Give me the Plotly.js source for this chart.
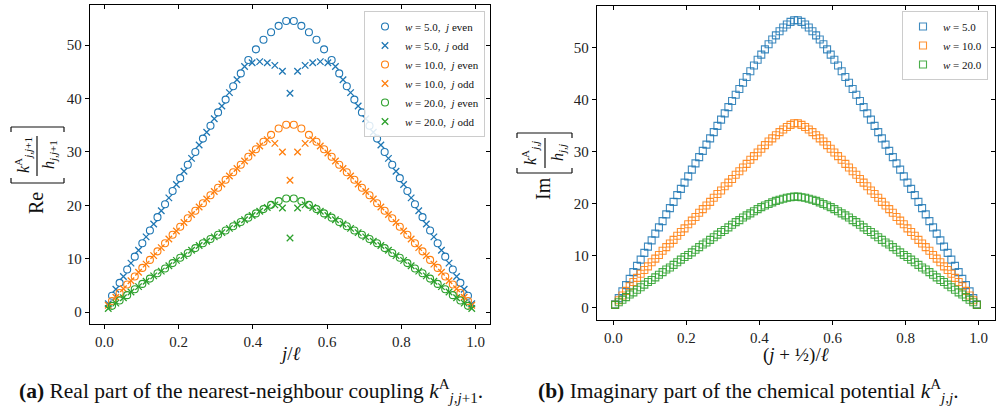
<!DOCTYPE html>
<html><head><meta charset="utf-8">
<script src="https://cdn.plot.ly/plotly-3.0.1.min.js"></script>
<style>html,body{margin:0;padding:0;background:#fff}#chart{width:997px;height:412px}</style>
</head><body><div id="chart"></div>
<script>
// ---------- panel (a): Re[k_{j,j+1}/h_{j,j+1}] vs j/l ----------
const ellA = 98;
const jEven = [2,4,6,8,10,12,14,16,18,20,22,24,26,28,30,32,34,36,38,40,42,44,46,48,50,52,54,56,58,60,62,64,66,68,70,72,74,76,78,80,82,84,86,88,90,92,94,96];
const jOdd = [1,3,5,7,9,11,13,15,17,19,21,23,25,27,29,31,33,35,37,39,41,43,45,47,49,51,53,55,57,59,61,63,65,67,69,71,73,75,77,79,81,83,85,87,89,91,93,95,97];

const re_w5_even = [3.1,5.5,8.0,10.4,12.9,15.3,17.8,20.2,22.7,25.1,27.6,30.0,32.5,34.9,37.4,39.8,42.3,44.7,47.2,49.2,51.0,52.4,53.6,54.5,
  54.5,53.6,52.4,51.0,49.2,47.2,44.7,42.3,39.8,37.4,34.9,32.5,30.0,27.6,25.1,22.7,20.2,17.8,15.3,12.9,10.4,8.0,5.5,3.1];
const re_w5_odd = [1.6,4.3,6.7,9.2,11.6,14.1,16.5,19.0,21.4,23.9,26.4,28.8,31.3,33.7,36.2,38.6,41.1,43.5,46.0,46.7,46.9,46.7,46.2,45.1,41.0,
  45.1,46.2,46.7,46.9,46.7,46.0,43.5,41.1,38.6,36.2,33.7,31.3,28.8,26.4,23.9,21.4,19.0,16.5,14.1,11.6,9.2,6.7,4.3,1.6];
const re_w10_even = [2.1,3.6,5.2,6.7,8.3,9.8,11.4,12.9,14.5,16.0,17.6,19.0,20.4,21.9,23.3,24.8,26.2,27.6,29.1,30.5,31.9,33.2,34.4,35.1,
  35.1,34.4,33.2,31.9,30.5,29.1,27.6,26.2,24.8,23.3,21.9,20.4,19.0,17.6,16.0,14.5,12.9,11.4,9.8,8.3,6.7,5.2,3.6,2.1];
const re_w10_odd = [1.3,2.8,4.4,5.9,7.5,9.0,10.6,12.1,13.7,15.2,16.8,18.3,19.7,21.2,22.6,24.0,25.5,26.9,28.3,29.8,31.1,32.3,31.6,30.0,24.7,
  30.0,31.6,32.3,31.1,29.8,28.3,26.9,25.5,24.0,22.6,21.2,19.7,18.3,16.8,15.2,13.7,12.1,10.6,9.0,7.5,5.9,4.4,2.8,1.3];
const re_w20_even = [1.2,2.2,3.2,4.3,5.3,6.3,7.3,8.2,9.2,10.2,11.1,12.0,12.9,13.7,14.5,15.3,16.1,16.9,17.7,18.5,19.3,20.1,20.8,21.3,
  21.3,20.8,20.1,19.3,18.5,17.7,16.9,16.1,15.3,14.5,13.7,12.9,12.0,11.1,10.2,9.2,8.2,7.3,6.3,5.3,4.3,3.2,2.2,1.2];
const re_w20_odd = [0.7,1.7,2.7,3.8,4.8,5.8,6.8,7.7,8.7,9.7,10.6,11.6,12.5,13.3,14.1,14.9,15.7,16.5,17.3,18.1,18.9,19.6,20.1,19.5,13.9,
  19.5,20.1,19.6,18.9,18.1,17.3,16.5,15.7,14.9,14.1,13.3,12.5,11.6,10.6,9.7,8.7,7.7,6.8,5.8,4.8,3.8,2.7,1.7,0.7];

// ---------- panel (b): Im[k_{j,j}/h_{j,j}] vs (j+1/2)/l ----------
const ellB = 100;
const site = [0,1,2,3,4,5,6,7,8,9,10,11,12,13,14,15,16,17,18,19,20,21,22,23,24,25,26,27,28,29,30,31,32,33,34,35,36,37,38,39,40,41,42,43,44,45,46,47,48,49,
  50,51,52,53,54,55,56,57,58,59,60,61,62,63,64,65,66,67,68,69,70,71,72,73,74,75,76,77,78,79,80,81,82,83,84,85,86,87,88,89,90,91,92,93,94,95,96,97,98,99];
const im_w5 = [0.6,1.8,3.1,4.3,5.5,6.8,8.0,9.2,10.5,11.7,12.9,14.2,15.4,16.6,17.9,19.1,20.3,21.6,22.8,24.0,25.2,26.5,27.7,28.9,30.1,31.3,32.5,33.7,34.9,36.1,
  37.3,38.5,39.7,40.9,42.0,43.2,44.3,45.4,46.5,47.6,48.6,49.6,50.6,51.5,52.3,53.1,53.8,54.4,54.9,55.2,
  55.2,54.9,54.4,53.8,53.1,52.3,51.5,50.6,49.6,48.6,47.6,46.5,45.4,44.3,43.2,42.0,40.9,39.7,38.5,37.3,36.1,34.9,33.7,32.5,31.3,30.1,28.9,27.7,26.5,25.2,
  24.0,22.8,21.6,20.3,19.1,17.9,16.6,15.4,14.2,12.9,11.7,10.5,9.2,8.0,6.8,5.5,4.3,3.1,1.8,0.6];
const im_w10 = [0.5,1.4,2.3,3.2,4.1,4.9,5.7,6.5,7.2,7.9,8.7,9.4,10.1,10.9,11.6,12.3,13.0,13.8,14.5,15.2,16.0,16.7,17.4,18.2,18.9,19.6,20.3,21.1,21.8,22.5,
  23.3,24.0,24.7,25.5,26.2,26.9,27.6,28.4,29.1,29.8,30.5,31.2,31.9,32.5,33.1,33.7,34.2,34.7,35.1,35.4,
  35.4,35.1,34.7,34.2,33.7,33.1,32.5,31.9,31.2,30.5,29.8,29.1,28.4,27.6,26.9,26.2,25.5,24.7,24.0,23.3,22.5,21.8,21.1,20.3,19.6,18.9,18.2,17.4,16.7,16.0,
  15.2,14.5,13.8,13.0,12.3,11.6,10.9,10.1,9.4,8.7,7.9,7.2,6.5,5.7,4.9,4.1,3.2,2.3,1.4,0.5];
const im_w20 = [0.5,1.0,1.5,2.0,2.5,2.9,3.4,3.9,4.4,4.9,5.3,5.8,6.3,6.8,7.3,7.7,8.2,8.7,9.2,9.7,10.1,10.6,11.1,11.6,12.1,12.5,13.0,13.5,14.0,14.5,
  14.9,15.4,15.9,16.4,16.8,17.3,17.7,18.1,18.5,18.9,19.3,19.6,19.9,20.2,20.5,20.7,20.9,21.1,21.2,21.3,
  21.3,21.2,21.1,20.9,20.7,20.5,20.2,19.9,19.6,19.3,18.9,18.5,18.1,17.7,17.3,16.8,16.4,15.9,15.4,14.9,14.5,14.0,13.5,13.0,12.5,12.1,11.6,11.1,10.6,10.1,
  9.7,9.2,8.7,8.2,7.7,7.3,6.8,6.3,5.8,5.3,4.9,4.4,3.9,3.4,2.9,2.5,2.0,1.5,1.0,0.5];

const tickVals = [0, 10, 20, 30, 40, 50];
const xTickVals = [0, 0.2, 0.4, 0.6, 0.8, 1.0];

// ---------- drawing ----------
const W = 997, H = 412;
const px = v => v / W, py = v => 1 - v / H;
const C = {b: '#1f77b4', o: '#ff7f0e', g: '#2ca02c'};
const SERIF = 'Liberation Serif';

const xA = arr => arr.map(j => j / ellA);
const xB = site.map(j => (j + 0.5) / ellB);

function circ(x, y, col, name) {
  return {x, y, type: 'scatter', mode: 'markers', name, legend: 'legend',
    marker: {symbol: 'circle-open', size: 7, color: col, line: {color: col, width: 1.1}},
    xaxis: 'x', yaxis: 'y', hoverinfo: 'skip'};
}
function cross(x, y, col, name) {
  return {x, y, type: 'scatter', mode: 'markers', name, legend: 'legend',
    marker: {symbol: 'x-thin-open', size: 6.5, color: col, line: {color: col, width: 1.3}},
    xaxis: 'x', yaxis: 'y', hoverinfo: 'skip'};
}
function sq(x, y, col, name) {
  return {x, y, type: 'scatter', mode: 'markers', name, legend: 'legend2',
    marker: {symbol: 'square-open', size: 7, color: col, opacity: 0.85, line: {color: col, width: 1.1}},
    xaxis: 'x2', yaxis: 'y2', hoverinfo: 'skip'};
}

const W_ = '<i>w</i>', J_ = '<i>j</i>';
const traces = [
  circ(xA(jEven), re_w5_even, C.b, W_ + ' = 5.0,  ' + J_ + ' even'),
  cross(xA(jOdd), re_w5_odd, C.b, W_ + ' = 5.0,  ' + J_ + ' odd'),
  circ(xA(jEven), re_w10_even, C.o, W_ + ' = 10.0,  ' + J_ + ' even'),
  cross(xA(jOdd), re_w10_odd, C.o, W_ + ' = 10.0,  ' + J_ + ' odd'),
  circ(xA(jEven), re_w20_even, C.g, W_ + ' = 20.0,  ' + J_ + ' even'),
  cross(xA(jOdd), re_w20_odd, C.g, W_ + ' = 20.0,  ' + J_ + ' odd'),
  sq(xB, im_w5, C.b, W_ + ' = 5.0'),
  sq(xB, im_w10, C.o, W_ + ' = 10.0'),
  sq(xB, im_w20, C.g, W_ + ' = 20.0'),
  // empty helpers so the top/right tick axes exist
  {x: [], y: [], xaxis: 'x3', yaxis: 'y', showlegend: false, type: 'scatter', mode: 'markers'},
  {x: [], y: [], xaxis: 'x', yaxis: 'y3', showlegend: false, type: 'scatter', mode: 'markers'},
  {x: [], y: [], xaxis: 'x4', yaxis: 'y2', showlegend: false, type: 'scatter', mode: 'markers'},
  {x: [], y: [], xaxis: 'x2', yaxis: 'y4', showlegend: false, type: 'scatter', mode: 'markers'}
];

const tickFont = {family: 'Liberation Serif', size: 15, color: '#222'};
const baseAx = {showgrid: false, zeroline: false, showline: true, linecolor: '#000', linewidth: 1.2,
  mirror: true, ticks: 'outside', ticklen: 4, tickwidth: 1, tickcolor: '#000', tickfont: tickFont, fixedrange: true};
const innerAx = {showgrid: false, zeroline: false, showline: false, ticks: 'inside', ticklen: 4, tickwidth: 1,
  tickcolor: '#000', showticklabels: false, fixedrange: true};

const rangeAx = [-0.039, 1.039], rangeAy = [-2.2, 57.5];
const rangeBx = [-0.0445, 1.0445], rangeBy = [-2.4, 58.0];
const domAx = [px(90), px(490)], domAy = [py(324), py(5)];
const domBx = [px(597), px(995)], domBy = [py(320), py(5.7)];

function A(t, x, y, size, extra) {
  return Object.assign({text: t, x: px(x), y: py(y), xref: 'paper', yref: 'paper', showarrow: false,
    xanchor: 'center', yanchor: 'middle', font: {family: SERIF, size, color: '#111'}}, extra || {});
}
function L(x0, y0, x1, y1) {
  return {type: 'line', xref: 'paper', yref: 'paper', x0: px(x0), y0: py(y0), x1: px(x1), y1: py(y1),
    line: {color: '#111', width: 1.2}};
}
const rot = {textangle: -90};

const layout = {
  width: W, height: H, autosize: false,
  margin: {l: 0, r: 0, t: 0, b: 0, pad: 0},
  paper_bgcolor: '#fff', plot_bgcolor: '#fff',
  font: {family: SERIF, color: '#111'},
  xaxis: Object.assign({}, baseAx, {domain: domAx, range: rangeAx, anchor: 'y', tickvals: xTickVals, tickformat: '.1f'}),
  yaxis: Object.assign({}, baseAx, {domain: domAy, range: rangeAy, anchor: 'x', tickvals: tickVals}),
  xaxis2: Object.assign({}, baseAx, {domain: domBx, range: rangeBx, anchor: 'y2', tickvals: xTickVals, tickformat: '.1f'}),
  yaxis2: Object.assign({}, baseAx, {domain: domBy, range: rangeBy, anchor: 'x2', tickvals: tickVals}),
  xaxis3: Object.assign({}, innerAx, {overlaying: 'x', side: 'top', anchor: 'y', range: rangeAx, tickvals: xTickVals}),
  yaxis3: Object.assign({}, innerAx, {overlaying: 'y', side: 'right', anchor: 'x', range: rangeAy, tickvals: tickVals}),
  xaxis4: Object.assign({}, innerAx, {overlaying: 'x2', side: 'top', anchor: 'y2', range: rangeBx, tickvals: xTickVals}),
  yaxis4: Object.assign({}, innerAx, {overlaying: 'y2', side: 'right', anchor: 'x2', range: rangeBy, tickvals: tickVals}),
  showlegend: true,
  legend: {x: px(485), y: py(11), xanchor: 'right', yanchor: 'top', bgcolor: 'rgba(255,255,255,0.85)',
    bordercolor: '#cccccc', borderwidth: 1, font: {family: SERIF, size: 11, color: '#111'}, tracegroupgap: 0, itemwidth: 30},
  legend2: {x: px(988), y: py(11), xanchor: 'right', yanchor: 'top', bgcolor: 'rgba(255,255,255,0.85)',
    bordercolor: '#cccccc', borderwidth: 1, font: {family: SERIF, size: 11, color: '#111'}, tracegroupgap: 0, itemwidth: 30},
  annotations: [
    // x titles
    A('<i>j</i>/<i>ℓ</i>', 290, 353, 19),
    A('(<i>j</i> + ½)/<i>ℓ</i>', 796, 355, 19),
    // y title (a)
    A('Re', 36, 203, 20, rot),
    A('<i>k</i><sup>A</sup><sub><i>j,j</i>+1</sub>', 23, 155, 16, rot),
    A('<i>h</i><sub><i>j,j</i>+1</sub>', 50, 155, 16, rot),
    // y title (b)
    A('Im', 543, 189, 20, rot),
    A('<i>k</i><sup>A</sup><sub><i>j,j</i></sub>', 530, 153, 16, rot),
    A('<i>h</i><sub><i>j,j</i></sub>', 559, 153, 16, rot),
    // captions
    A('<b>(a)</b> Real part of the nearest-neighbour coupling <i>k</i><sup>A</sup><sub><i>j,j</i>+1</sub>.', 251, 391, 21.5),
    A('<b>(b)</b> Imaginary part of the chemical potential <i>k</i><sup>A</sup><sub><i>j,j</i></sub>.', 748, 391, 21.5)
  ],
  shapes: [
    // brackets + fraction bar (a)
    L(11, 127, 64, 127), L(11, 127, 11, 132), L(64, 127, 64, 132),
    L(11, 183, 64, 183), L(11, 183, 11, 178), L(64, 183, 64, 178),
    L(37, 136, 37, 176),
    // brackets + fraction bar (b)
    L(517, 133, 572, 133), L(517, 133, 517, 138), L(572, 133, 572, 138),
    L(517, 173, 572, 173), L(517, 173, 517, 168), L(572, 173, 572, 168),
    L(545, 138, 545, 168)
  ]
};

Plotly.newPlot('chart', traces, layout, {staticPlot: true, displayModeBar: false});
</script>
</body></html>
